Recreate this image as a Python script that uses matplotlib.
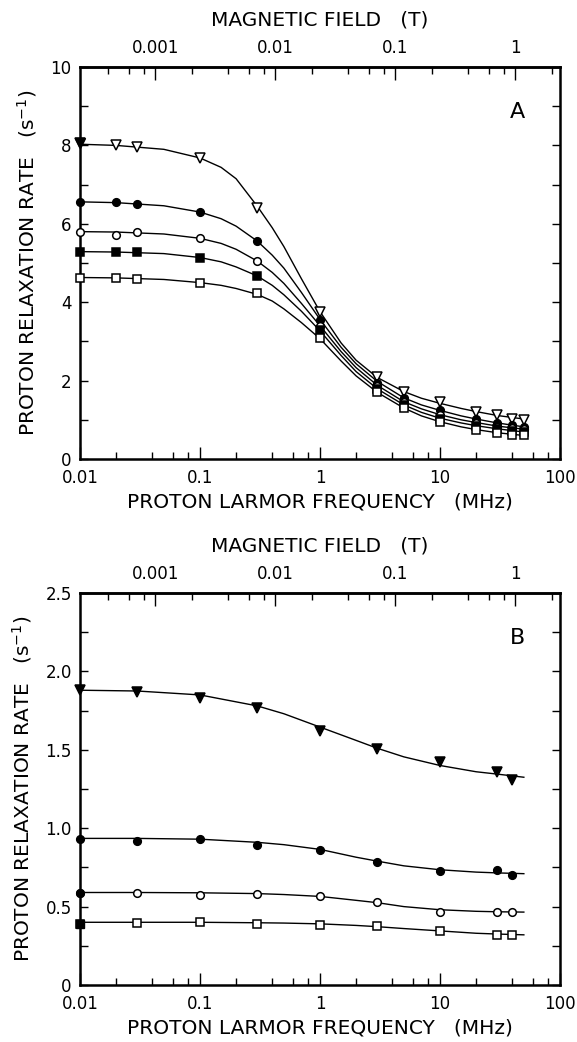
import matplotlib
matplotlib.use('Agg')
import matplotlib.pyplot as plt
from matplotlib.ticker import FixedLocator, MultipleLocator, FuncFormatter, NullFormatter

GAMMA = 42.58  # proton MHz per tesla

# ---- panel A: measured points
freq_a = [0.01, 0.02, 0.03, 0.1, 0.3, 1, 3, 5, 10, 20, 30, 40, 50]
a_tri_open = [8.05, 8.0, 7.95, 7.68, 6.4, 3.76, 2.1, 1.72, 1.46, 1.21, 1.12, 1.03, 1.0]
a_circ_filled = [6.55, 6.55, 6.5, 6.3, 5.56, 3.55, 1.95, 1.55, 1.25, 1.02, 0.92, 0.86, 0.82]
a_circ_open = [5.8, 5.72, 5.78, 5.63, 5.05, 3.4, 1.85, 1.45, 1.12, 0.92, 0.82, 0.78, 0.76]
a_sq_filled = [5.28, 5.28, 5.28, 5.14, 4.68, 3.3, 1.78, 1.38, 1.02, 0.85, 0.76, 0.72, 0.7]
a_sq_open = [4.62, 4.62, 4.6, 4.48, 4.23, 3.09, 1.7, 1.3, 0.95, 0.75, 0.66, 0.62, 0.6]

# ---- panel A: fitted curves
fit_freq_a = [0.01, 0.02, 0.05, 0.1, 0.15, 0.2, 0.3, 0.4, 0.5, 0.7, 1,
              1.5, 2, 3, 5, 7, 10, 15, 20, 30, 50]
fit_a_tri = [8.03, 8.0, 7.9, 7.68, 7.44, 7.15, 6.45, 5.9, 5.42, 4.6, 3.76,
             2.96, 2.52, 2.08, 1.72, 1.55, 1.42, 1.29, 1.21, 1.11, 1.02]
fit_a_circ_filled = [6.56, 6.54, 6.46, 6.3, 6.13, 5.94, 5.56, 5.2, 4.87, 4.25, 3.56,
                     2.85, 2.43, 1.98, 1.56, 1.38, 1.24, 1.1, 1.02, 0.92, 0.82]
fit_a_circ_open = [5.8, 5.79, 5.74, 5.63, 5.5, 5.35, 5.05, 4.76, 4.48, 3.97, 3.4,
                   2.74, 2.33, 1.88, 1.46, 1.28, 1.13, 1.0, 0.93, 0.84, 0.76]
fit_a_sq_filled = [5.29, 5.28, 5.24, 5.14, 5.03, 4.9, 4.67, 4.43, 4.19, 3.77, 3.27,
                   2.64, 2.23, 1.79, 1.38, 1.19, 1.04, 0.92, 0.85, 0.77, 0.69]
fit_a_sq_open = [4.63, 4.62, 4.58, 4.5, 4.43, 4.35, 4.2, 4.03, 3.83, 3.48, 3.07,
                 2.5, 2.12, 1.7, 1.3, 1.1, 0.95, 0.82, 0.75, 0.67, 0.6]

# ---- panel B: measured points
freq_b = [0.01, 0.03, 0.1, 0.3, 1, 3, 10, 30, 40]
b_tri_filled = [1.88, 1.87, 1.83, 1.767, 1.622, 1.505, 1.42, 1.36, 1.31]
b_circ_filled = [0.933, 0.916, 0.931, 0.895, 0.863, 0.782, 0.725, 0.731, 0.699]
b_circ_open = [0.587, 0.587, 0.574, 0.582, 0.565, 0.529, 0.466, 0.466, 0.464]
b_sq_open = [0.391, 0.395, 0.399, 0.391, 0.385, 0.378, 0.342, 0.321, 0.321]

# ---- panel B: fitted curves
fit_freq_b = [0.01, 0.03, 0.1, 0.3, 0.5, 1, 2, 3, 5, 10, 20, 30, 50]
fit_b_tri = [1.88, 1.875, 1.85, 1.78, 1.73, 1.645, 1.56, 1.51, 1.455, 1.40, 1.36, 1.345, 1.325]
fit_b_circ_filled = [0.935, 0.935, 0.93, 0.91, 0.895, 0.865, 0.815, 0.79, 0.76, 0.735, 0.72, 0.715, 0.71]
fit_b_circ_open = [0.59, 0.59, 0.588, 0.583, 0.577, 0.565, 0.54, 0.525, 0.5, 0.48, 0.47, 0.467, 0.465]
fit_b_sq_open = [0.40, 0.40, 0.40, 0.397, 0.395, 0.39, 0.38, 0.372, 0.36, 0.345, 0.33, 0.325, 0.32]

x_ticks = [0.01, 0.1, 1, 10, 100]
b_ticks = [0.001, 0.01, 0.1, 1]

plt.rcParams['font.family'] = ['DejaVu Sans']
plt.rcParams['mathtext.default'] = 'regular'

fig = plt.figure(figsize=(5.77, 10.42), dpi=100)
ax_a = fig.add_axes([0.1386, 0.5595, 0.8319, 0.3762])
ax_b = fig.add_axes([0.1386, 0.0547, 0.8319, 0.3762])


def num_fmt(v, pos):
    return '%g' % v


def dec_fmt(v, pos):
    return '0' if v == 0 else '%.1f' % v


def minor_list(lo, hi):
    out = []
    d = lo
    while d < hi:
        for m in (2, 4, 6, 8):
            if lo < m * d < hi:
                out.append(m * d)
        d *= 10
    return out


def style_axes(ax, ymax, ymaj, ymin, letter):
    ax.set_xscale('log')
    ax.set_xlim(0.01, 100)
    ax.set_ylim(0, ymax)
    ax.xaxis.set_major_locator(FixedLocator(x_ticks))
    ax.xaxis.set_minor_locator(FixedLocator(minor_list(0.01, 100)))
    ax.xaxis.set_major_formatter(FuncFormatter(num_fmt))
    ax.xaxis.set_minor_formatter(NullFormatter())
    ax.yaxis.set_major_locator(MultipleLocator(ymaj))
    ax.yaxis.set_minor_locator(MultipleLocator(ymin))
    ax.yaxis.set_major_formatter(FuncFormatter(num_fmt if ymaj >= 1 else dec_fmt))
    ax.tick_params(axis='x', which='major', direction='in', length=9, width=1, labelsize=12, pad=7, top=False)
    ax.tick_params(axis='x', which='minor', direction='in', length=5, width=1, top=False)
    ax.tick_params(axis='y', which='both', direction='in', length=6, width=1, labelsize=12, right=True, pad=6)
    for s in ax.spines.values():
        s.set_linewidth(1.8)
    ax.set_xlabel('PROTON LARMOR FREQUENCY   (MHz)', fontsize=14.5, labelpad=4)
    ax.set_ylabel(r'PROTON RELAXATION RATE   (s$^{-1}$)', fontsize=14.5, labelpad=8)
    ax.text(0.912, 0.885, letter, transform=ax.transAxes, fontsize=16, ha='center', va='center')

    sec = ax.secondary_xaxis('top', functions=(lambda f: f / GAMMA, lambda b: b * GAMMA))
    sec.xaxis.set_major_locator(FixedLocator(b_ticks))
    sec.xaxis.set_minor_locator(FixedLocator(minor_list(0.0001, 2.4)))
    sec.xaxis.set_major_formatter(FuncFormatter(num_fmt))
    sec.xaxis.set_minor_formatter(NullFormatter())
    sec.tick_params(axis='x', which='major', direction='in', length=9, width=1, labelsize=12, pad=7)
    sec.tick_params(axis='x', which='minor', direction='in', length=5, width=1)
    sec.spines['top'].set_linewidth(1.8)
    sec.set_xlabel('MAGNETIC FIELD   (T)', fontsize=14.5, labelpad=10)


def draw(ax, fx, fy, px, py, marker, filled, fill_first=False):
    ax.plot(fx, fy, color='black', lw=1.0, zorder=2)
    face = 'black' if filled else 'white'
    ms = 6.5 if marker == 'v' else 5.5
    ax.plot(px, py, linestyle='none', marker=marker, ms=ms, mfc=face, mec='black',
            mew=1.1, clip_on=False, zorder=3)
    if fill_first:
        ax.plot(px[:1], py[:1], linestyle='none', marker=marker, ms=ms, mfc='black',
                mec='black', clip_on=False, zorder=4)


draw(ax_a, fit_freq_a, fit_a_tri, freq_a, a_tri_open, 'v', False, fill_first=True)
draw(ax_a, fit_freq_a, fit_a_circ_filled, freq_a, a_circ_filled, 'o', True)
draw(ax_a, fit_freq_a, fit_a_circ_open, freq_a, a_circ_open, 'o', False)
draw(ax_a, fit_freq_a, fit_a_sq_filled, freq_a, a_sq_filled, 's', True)
draw(ax_a, fit_freq_a, fit_a_sq_open, freq_a, a_sq_open, 's', False)

draw(ax_b, fit_freq_b, fit_b_tri, freq_b, b_tri_filled, 'v', True)
draw(ax_b, fit_freq_b, fit_b_circ_filled, freq_b, b_circ_filled, 'o', True)
draw(ax_b, fit_freq_b, fit_b_circ_open, freq_b, b_circ_open, 'o', False, fill_first=True)
draw(ax_b, fit_freq_b, fit_b_sq_open, freq_b, b_sq_open, 's', False, fill_first=True)

style_axes(ax_a, 10, 2, 1, 'A')
style_axes(ax_b, 2.5, 0.5, 0.25, 'B')

fig.savefig('out.png', dpi=100)
